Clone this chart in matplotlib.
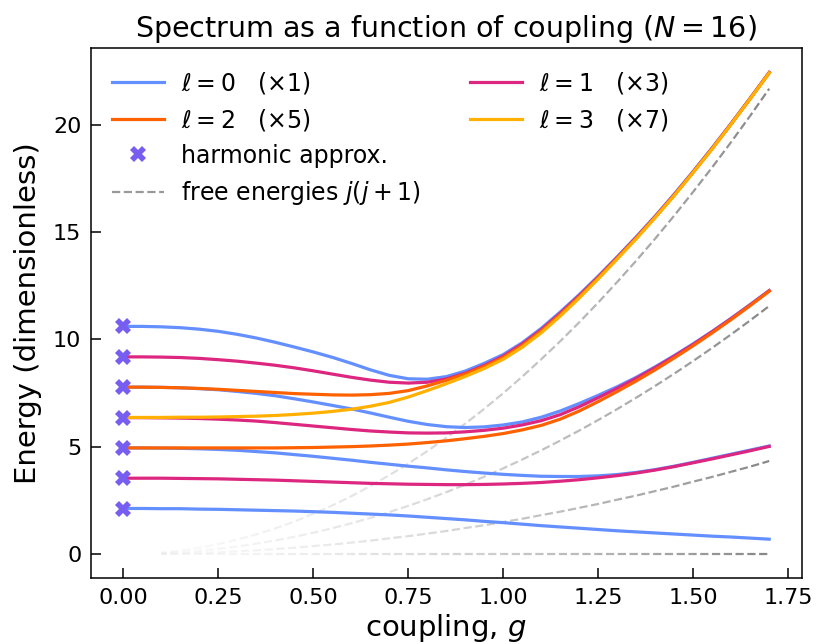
import numpy as np
import matplotlib
matplotlib.use("Agg")
import matplotlib.pyplot as plt
from matplotlib.lines import Line2D
from matplotlib.patches import Rectangle

# ---------------- data ----------------
g = [0.00, 0.05, 0.10, 0.15, 0.20, 0.25, 0.30, 0.35, 0.40, 0.45, 0.50, 0.55,
     0.60, 0.65, 0.70, 0.75, 0.80, 0.85, 0.90, 0.95, 1.00, 1.05, 1.10, 1.15,
     1.20, 1.25, 1.30, 1.35, 1.40, 1.45, 1.50, 1.55, 1.60, 1.65, 1.70]

# l = 0 levels
l0_a = [2.13, 2.13, 2.12, 2.12, 2.10, 2.09, 2.07, 2.05, 2.03, 2.01, 1.98, 1.95,
        1.91, 1.87, 1.83, 1.78, 1.72, 1.66, 1.60, 1.53, 1.47, 1.40, 1.33, 1.27,
        1.21, 1.15, 1.09, 1.04, 0.99, 0.94, 0.89, 0.84, 0.80, 0.75, 0.70]
l0_b = [4.95, 4.95, 4.94, 4.93, 4.91, 4.88, 4.84, 4.78, 4.72, 4.64, 4.56, 4.47,
        4.38, 4.28, 4.19, 4.10, 4.02, 3.93, 3.85, 3.78, 3.72, 3.67, 3.63, 3.62,
        3.62, 3.65, 3.71, 3.81, 3.94, 4.10, 4.28, 4.47, 4.66, 4.85, 5.04]
l0_c = [7.78, 7.78, 7.77, 7.75, 7.71, 7.66, 7.58, 7.49, 7.38, 7.24, 7.09, 6.93,
        6.77, 6.58, 6.38, 6.19, 6.04, 5.94, 5.90, 5.93, 6.02, 6.16, 6.38, 6.67,
        7.02, 7.40, 7.80, 8.24, 8.73, 9.25, 9.80, 10.38, 10.99, 11.63, 12.28]
l0_d = [10.61, 10.61, 10.59, 10.55, 10.48, 10.38, 10.24, 10.07, 9.87, 9.65, 9.42, 9.17,
        8.89, 8.59, 8.33, 8.17, 8.15, 8.27, 8.53, 8.89, 9.30, 9.85, 10.52, 11.28,
        12.09, 12.95, 13.85, 14.78, 15.75, 16.77, 17.83, 18.93, 20.07, 21.24, 22.44]
# l = 1 levels
l1_a = [3.54, 3.54, 3.54, 3.53, 3.52, 3.51, 3.49, 3.47, 3.45, 3.42, 3.39, 3.36,
        3.33, 3.30, 3.28, 3.26, 3.25, 3.24, 3.24, 3.25, 3.27, 3.30, 3.34, 3.40,
        3.47, 3.56, 3.66, 3.78, 3.92, 4.08, 4.26, 4.44, 4.63, 4.82, 5.02]
l1_b = [6.36, 6.36, 6.35, 6.34, 6.32, 6.29, 6.25, 6.20, 6.13, 6.05, 5.97, 5.89,
        5.81, 5.74, 5.69, 5.65, 5.64, 5.65, 5.70, 5.77, 5.87, 6.02, 6.22, 6.50,
        6.87, 7.29, 7.73, 8.19, 8.69, 9.22, 9.77, 10.36, 10.97, 11.61, 12.27]
l1_c = [9.19, 9.19, 9.18, 9.16, 9.12, 9.06, 8.99, 8.90, 8.80, 8.68, 8.54, 8.39,
        8.24, 8.11, 8.01, 7.97, 8.01, 8.16, 8.43, 8.79, 9.22, 9.79, 10.45, 11.22,
        12.04, 12.91, 13.82, 14.75, 15.72, 16.74, 17.81, 18.91, 20.05, 21.23, 22.43]
# l = 2 levels
l2_a = [4.95, 4.95, 4.95, 4.95, 4.95, 4.95, 4.95, 4.95, 4.95, 4.96, 4.97, 4.99,
        5.01, 5.04, 5.08, 5.13, 5.20, 5.28, 5.38, 5.49, 5.62, 5.79, 6.00, 6.29,
        6.67, 7.11, 7.58, 8.07, 8.59, 9.14, 9.71, 10.31, 10.93, 11.58, 12.25]
l2_b = [7.78, 7.78, 7.77, 7.75, 7.72, 7.68, 7.63, 7.58, 7.53, 7.48, 7.45, 7.42,
        7.41, 7.43, 7.49, 7.62, 7.84, 8.10, 8.39, 8.74, 9.16, 9.72, 10.39, 11.16,
        11.99, 12.87, 13.79, 14.72, 15.70, 16.72, 17.79, 18.89, 20.04, 21.22, 22.42]
# l = 3 level
l3_a = [6.37, 6.37, 6.37, 6.38, 6.38, 6.39, 6.41, 6.43, 6.46, 6.51, 6.57, 6.65,
        6.75, 6.89, 7.07, 7.32, 7.62, 7.94, 8.28, 8.65, 9.08, 9.64, 10.31, 11.09,
        11.93, 12.82, 13.75, 14.69, 15.68, 16.70, 17.78, 18.88, 20.03, 21.21, 22.41]

# harmonic approximation at g = 0
harm_g = [0.0, 0.0, 0.0, 0.0, 0.0, 0.0, 0.0]
harm_E = [2.12, 3.54, 4.95, 6.36, 7.78, 9.19, 10.61]

# free energies (dashed, faded)
free_j0 = [0.00] * 35
free_j1 = [0.00, 0.00, 0.02, 0.03, 0.06, 0.09, 0.14, 0.18, 0.24, 0.30, 0.38, 0.45,
           0.54, 0.63, 0.74, 0.84, 0.96, 1.08, 1.22, 1.35, 1.50, 1.65, 1.82, 1.98,
           2.16, 2.34, 2.54, 2.73, 2.94, 3.15, 3.38, 3.60, 3.84, 4.08, 4.34]
free_j2 = [0.00, 0.01, 0.04, 0.09, 0.16, 0.25, 0.36, 0.49, 0.64, 0.81, 1.00, 1.21,
           1.44, 1.69, 1.96, 2.25, 2.56, 2.89, 3.24, 3.61, 4.00, 4.41, 4.84, 5.29,
           5.76, 6.25, 6.76, 7.29, 7.84, 8.41, 9.00, 9.61, 10.24, 10.89, 11.56]
free_j3 = [0.00, 0.02, 0.08, 0.17, 0.30, 0.47, 0.68, 0.92, 1.20, 1.52, 1.88, 2.27,
           2.70, 3.17, 3.68, 4.22, 4.80, 5.42, 6.08, 6.77, 7.50, 8.27, 9.08, 9.92,
           10.80, 11.72, 12.68, 13.67, 14.70, 15.77, 16.88, 18.02, 19.20, 20.42, 21.68]

labels_l = [r"$\ell=0$   $(\times 1)$", r"$\ell=1$   $(\times 3)$",
            r"$\ell=2$   $(\times 5)$", r"$\ell=3$   $(\times 7)$"]

# ---------------- style ----------------
C_L0 = "#648FFF"
C_L1 = "#DC267F"
C_L2 = "#FE6100"
C_L3 = "#FFB000"
C_HARM = "#785EF0"
LW = 2.3
MS = 11

DPI = 100
fig = plt.figure(figsize=(8.16, 6.44), dpi=DPI)
ax = fig.add_axes([91 / 816, 1 - 578.3 / 644, (801.5 - 91) / 816, (578.3 - 48.3) / 644])

gg = np.array(g)
series = [(l0_a, C_L0), (l0_b, C_L0), (l0_c, C_L0), (l0_d, C_L0),
          (l1_a, C_L1), (l1_b, C_L1), (l1_c, C_L1),
          (l2_a, C_L2), (l2_b, C_L2),
          (l3_a, C_L3)]
for vals, col in series:
    ax.plot(gg, vals, color=col, lw=LW, zorder=3)

ax.plot(harm_g, harm_E, linestyle="none", marker="X", markersize=MS,
        color=C_HARM, markeredgewidth=0, zorder=5)

free_sets = [free_j0, free_j1, free_j2, free_j3]
for vals in free_sets:
    ax.update_datalim(np.column_stack([gg, vals]))

# fix limits (matplotlib default margins) before drawing the faded dashes
ax.autoscale_view()
ax.set_xlim(ax.get_xlim())
ax.set_ylim(ax.get_ylim())

# faded dashed free-energy curves: piecewise with continuous dash phase
DLW = 1.6
ON, OFF = 3.7, 1.6
period = ON + OFF
gmax = gg[-1]
for vals in free_sets:
    yy = np.array(vals)
    pts = ax.transData.transform(np.column_stack([gg, yy]))
    seg = np.hypot(np.diff(pts[:, 0]), np.diff(pts[:, 1])) * 72.0 / DPI
    cum = np.concatenate([[0.0], np.cumsum(seg)])
    for i in range(len(gg) - 1):
        if gg[i] < 0.099:
            continue
        t = max(0.0, (gg[i] + 0.025 - 0.1) / (gmax - 0.1))
        a = min(1.0, 0.05 + 0.9 * t ** 1.6)
        off = (cum[i] / DLW) % period
        ax.plot(gg[i:i + 2], yy[i:i + 2], color="gray", lw=DLW,
                linestyle=(off, (ON, OFF)), dash_capstyle="butt",
                alpha=a, zorder=1)

# ---------------- axes decoration ----------------
ax.set_title(r"Spectrum as a function of coupling ($N=16$)", fontsize=20.5, pad=8)
ax.set_xlabel(r"coupling, $g$", fontsize=21, labelpad=3)
ax.set_ylabel("Energy (dimensionless)", fontsize=21, labelpad=8)
ax.set_xticks([0.0, 0.25, 0.5, 0.75, 1.0, 1.25, 1.5, 1.75])
ax.set_xticklabels(["0.00", "0.25", "0.50", "0.75", "1.00", "1.25", "1.50", "1.75"])
ax.set_yticks([0, 5, 10, 15, 20])
ax.tick_params(direction="in", length=7, width=1.1, labelsize=16, pad=7)
for s in ax.spines.values():
    s.set_linewidth(1.1)

# ---------------- legend ----------------
h0 = Line2D([], [], color=C_L0, lw=LW)
h1 = Line2D([], [], color=C_L1, lw=LW)
h2 = Line2D([], [], color=C_L2, lw=LW)
h3 = Line2D([], [], color=C_L3, lw=LW)
hh = Line2D([], [], color=C_HARM, marker="X", linestyle="none", markersize=MS,
            markeredgewidth=0)
hf = Line2D([], [], color="gray", lw=DLW, linestyle="--", alpha=0.8)
blank = Rectangle((0, 0), 1, 1, visible=False)
ax.legend([h0, h2, hh, hf, h1, h3, blank, blank],
          [labels_l[0], labels_l[2], "harmonic approx.", r"free energies $j(j+1)$",
           labels_l[1], labels_l[3], "", ""],
          ncol=2, loc="upper left", frameon=False, fontsize=17,
          handlelength=2.2, handletextpad=0.7, labelspacing=0.47,
          columnspacing=2.1, borderaxespad=0.5)

fig.savefig("out.png", dpi=DPI)
